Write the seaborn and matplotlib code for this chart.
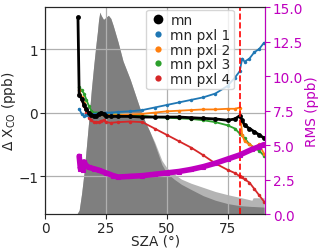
import numpy as np
import pandas as pd
import matplotlib
matplotlib.use("Agg")
import matplotlib.pyplot as plt
import seaborn as sns
from matplotlib.lines import Line2D

sns.set_style("ticks")
plt.rcParams['font.family'] = ['DejaVu Sans']
plt.rcParams['font.size'] = 9.8

# ---- data ----
sza = [14, 15, 16, 17, 18, 19, 20, 21, 22, 23, 24, 25, 27, 30, 35, 40, 45, 50, 55,
       60, 65, 70, 75, 78, 80, 81, 82, 84, 86, 88, 90]
mn_sza = [13.5] + sza
mn = [1.5, 0.28, 0.22, 0.12, 0.05, 0.0, -0.03, -0.05, -0.05, -0.02, 0.0, -0.02, -0.05,
      -0.06, -0.06, -0.06, -0.07, -0.07, -0.07, -0.07, -0.08, -0.09, -0.1, -0.12, -0.1,
      -0.05, -0.12, -0.2, -0.25, -0.3, -0.35, -0.4]
pxl1 = [0.06, -0.02, -0.05, -0.04, -0.03, -0.03, -0.02, -0.02, -0.01, -0.01, -0.01, 0.0,
        0.0, 0.01, 0.02, 0.04, 0.08, 0.12, 0.16, 0.2, 0.24, 0.3, 0.42, 0.55, 0.65, 0.85,
        0.8, 0.85, 0.95, 1.0, 1.1]
pxl2 = [0.35, 0.25, 0.15, 0.05, 0.0, -0.02, -0.03, -0.03, -0.02, -0.02, -0.03, -0.03,
        -0.04, -0.04, -0.03, -0.02, 0.0, 0.02, 0.03, 0.04, 0.05, 0.05, 0.06, 0.06, 0.08,
        -0.35, -0.45, -0.5, -0.55, -0.5, -0.65]
pxl3 = [0.4, 0.35, 0.3, 0.2, 0.1, 0.03, 0.0, 0.0, 0.0, -0.01, -0.02, -0.02, -0.03,
        -0.03, -0.04, -0.05, -0.07, -0.08, -0.09, -0.1, -0.12, -0.15, -0.2, -0.25, -0.33,
        -0.36, -0.4, -0.5, -0.55, -0.6, -0.68]
pxl4 = [0.3, 0.2, 0.1, 0.0, -0.08, -0.12, -0.15, -0.15, -0.15, -0.13, -0.12, -0.15,
        -0.16, -0.15, -0.14, -0.15, -0.25, -0.35, -0.45, -0.55, -0.67, -0.8, -0.9, -0.95,
        -1.0, -1.02, -1.05, -1.1, -1.2, -1.3, -1.4]

rms_sza = [14, 14.5, 15, 15.5, 16, 17, 18, 20, 22, 25, 28, 30, 35, 40, 45, 50, 55, 60,
           65, 70, 75, 80, 85, 88, 90]
rms = [4.2, 3.3, 3.7, 3.2, 3.8, 3.5, 3.4, 3.3, 3.2, 3.0, 2.8, 2.7, 2.75, 2.8, 2.9, 3.0,
       3.1, 3.25, 3.45, 3.7, 4.0, 4.3, 4.7, 4.9, 5.05]

hist_sza = [13, 14, 15, 16, 17, 18, 19, 20, 21, 21.5, 22, 22.5, 23, 24, 24.5, 25, 26,
            27, 28, 30, 32, 35, 37, 39, 41, 43, 45, 48, 50, 53, 56, 60, 65, 70, 75, 80,
            85, 85.5, 90]
hist_sel = [0, 20, 100, 200, 330, 460, 600, 720, 830, 880, 940, 975, 960, 940, 945,
            950, 960, 945, 910, 830, 740, 650, 580, 510, 450, 400, 340, 240, 200, 170,
            145, 120, 90, 68, 52, 42, 38, 38, 35]
hist_all = [0, 20, 100, 200, 330, 460, 600, 720, 830, 880, 940, 975, 960, 940, 945,
            950, 960, 945, 910, 830, 740, 650, 580, 510, 450, 400, 350, 260, 225, 195,
            170, 150, 130, 110, 95, 82, 68, 80, 80]

labels = ["mn", "mn pxl 1", "mn pxl 2", "mn pxl 3", "mn pxl 4"]
colors = ["black", "#1f77b4", "#ff7f0e", "#2ca02c", "#d62728"]

# ---- figure ----
fig = plt.figure(figsize=(3.2, 2.51), dpi=100)
ax = fig.add_axes([0.141, 0.142, 0.688, 0.826])
axh = ax.twinx()
ax2 = ax.twinx()
ax.set_zorder(axh.get_zorder() + 1)
ax2.set_zorder(ax.get_zorder() + 1)
ax.patch.set_visible(False)
ax2.patch.set_visible(False)

axh.fill_between(hist_sza, hist_all, color="#b4b4b4", lw=0)
axh.fill_between(hist_sza, hist_sel, color="#7f7f7f", lw=0)
axh.set_ylim(0, 1000)
axh.set_yticks([])
axh.spines[:].set_visible(False)

series = [(mn_sza, mn), (sza, pxl1), (sza, pxl2), (sza, pxl3), (sza, pxl4)]
for (xs, ys), c, lab in zip(series[::-1], colors[::-1], labels[::-1]):
    sns.lineplot(x=xs, y=ys, ax=ax, color=c, marker="o",
                 markersize=2.5 if c != "black" else 3.5,
                 markeredgewidth=0, linewidth=1.3 if c != "black" else 2.0,
                 legend=False, estimator=None, sort=False)

ax.axvline(80, color="red", ls="--", lw=1.2)
ax.set_xlim(0, 90.5)
ax.set_ylim(-1.6, 1.66)
ax.set_xticks([0, 25, 50, 75])
ax.set_yticks([-1, 0, 1])
ax.grid(True, color="#b0b0b0", lw=0.9)
ax.set_xlabel("SZA (°)", labelpad=-1)
ax.set_ylabel("$\\Delta$ X$_{\\rm CO}$ (ppb)", labelpad=0)
ax.tick_params(direction="out", length=3.5, pad=1.5)

sns.lineplot(x=rms_sza, y=rms, ax=ax2, color="m", marker="s", markersize=3,
             markerfacecolor="none", markeredgecolor="m", markeredgewidth=0.8,
             linewidth=4, legend=False, estimator=None, sort=False)
ax2.set_ylim(0, 15)
ax2.set_yticks([0, 2.5, 5, 7.5, 10, 12.5, 15])
ax2.set_yticklabels(["0.0", "2.5", "5.0", "7.5", "10.0", "12.5", "15.0"])
ax2.tick_params(axis="y", colors="m", direction="out", length=3.5, pad=2)
ax2.set_ylabel("RMS (ppb)", color="m", labelpad=1)
ax2.spines["right"].set_color("m")

handles = [Line2D([], [], ls="none", marker="o", ms=7 if c == "black" else 4.5,
                  color=c, mew=0) for c in colors]
ax.legend(handles, labels, loc="upper right", bbox_to_anchor=(0.87, 1.0),
          fontsize=9.8, labelspacing=0.05, handletextpad=0.3, borderpad=0.25,
          handlelength=1.2, borderaxespad=0.2, framealpha=0.8)

fig.savefig("out.png", dpi=100)
